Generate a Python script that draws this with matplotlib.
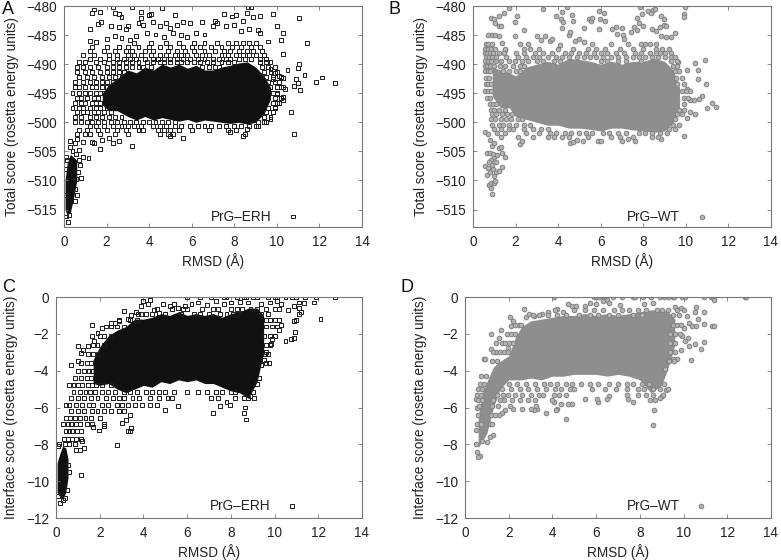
import matplotlib
matplotlib.use("Agg")
import matplotlib.pyplot as plt

plt.rcParams["font.family"] = ["Liberation Sans", "DejaVu Sans"]
plt.rcParams["font.size"] = 9.8

# values: the solid core of each cloud is kept as a band,
# the rest as single points (x = RMSD, y = score) or rows (y, [x, x, ...])
a_band_x = [1.8, 2.1, 2.5, 3, 3.4, 3.8, 4.2, 4.6, 5, 5.4, 5.8, 6.2, 6.6, 7, 7.4, 7.8, 8.2, 8.6, 9, 9.4, 9.7]
a_band_hi = [-495, -493.5, -492.5, -491, -491.5, -490.5, -491, -490, -490.5, -490, -490.7, -490.2, -491, -491, -490.5, -490.2, -489.8, -489.6, -490.5, -492, -494]
a_band_lo = [-497, -498, -498, -499, -499.6, -499, -499.6, -499.2, -499.5, -499.8, -499.5, -500, -499.6, -499.8, -500, -500.2, -500, -500.3, -500, -498.5, -496]
a_col_x = [0.05, 0.15, 0.3, 0.45, 0.6]
a_col_hi = [-510, -507, -505.5, -506, -506.5]
a_col_lo = [-515, -516, -515.5, -513, -510]
a_pts = [
    (1.3, -481.2), (1.7, -481), (1.4, -480.6), (2.3, -480.1), (2.4, -481.2), (2.6, -481.4), (2.7, -481.9), (3.2, -480.2),
    (3.6, -481), (3.6, -482), (4.0, -481.6), (4.1, -481.4), (4.6, -480.4), (5.2, -481.5), (5.6, -482.7), (5.9, -483),
    (6.5, -482.8), (7.1, -482.6), (7.5, -481.4), (7.9, -481.8), (8.1, -481.6), (8.4, -482.6), (8.6, -481.2), (8.65, -480.1),
    (8.8, -480.2), (8.9, -481.9), (9.2, -481.7), (9.8, -481.4), (11.05, -482.1), (10.0, -483.4), (10.3, -484.7), (10.2, -485.8),
    (11.4, -486.3), (10.3, -488.2), (9.6, -486.1), (1.2, -484), (1.2, -486), (1.5, -486.2), (1.6, -483.1), (1.75, -482.7),
    (2.2, -483.4), (2.6, -483.6), (2.9, -484), (3.0, -483.4), (3.5, -483), (3.7, -483.2), (4.2, -482.8), (4.5, -483.4),
    (4.8, -482.9), (5.0, -483.8), (5.3, -483.3), (6.2, -484.6), (6.6, -484.9), (7.0, -483.4), (7.2, -483), (7.6, -483.5),
    (8.0, -483.2), (8.3, -484.3), (8.7, -483.9), (9.1, -484.2), (9.2, -484.7), (2.0, -485.6), (2.4, -485.2), (2.7, -485.5),
    (3.1, -485.8), (3.4, -485.1), (3.9, -484.7), (4.3, -484.9), (4.7, -485.3), (5.1, -484.7), (5.5, -485), (5.8, -485.3),
    (9.7, -490.8), (9.9, -491.5), (10.1, -492), (9.8, -492.6), (10.3, -492.4), (10.5, -491),
    (11.05, -490), (11.0, -490.6), (11.3, -491.9), (10.9, -492.5), (11.85, -493.1), (12.1, -492.3), (12.75, -493.2), (11.0, -493.2),
    (10.8, -493.8), (11.1, -494.5), (10.4, -494.2), (10.2, -494), (10.0, -495.2), (10.3, -495.6), (10.3, -496.2), (10.0, -496.6),
    (9.9, -497.4), (9.8, -498.2), (9.7, -499.4), (9.5, -500), (10.65, -498.3), (10.8, -502), (9.1, -500.6), (8.6, -501.2),
    (8.4, -502.3), (7.8, -501.6), (5.6, -502.7), (5.0, -502.3), (3.2, -504.1), (2.6, -503.2),
    (2.3, -503.5), (2.1, -502.7), (1.7, -504.6), (1.8, -503), (1.4, -503.6), (1.3, -503.4),
    (1.0, -502), (0.9, -503.4), (0.8, -509.6), (0.75, -507.3), (1.15, -506.1),
    (0.9, -506), (0.7, -504.8), (0.5, -503.5), (0.3, -503.2), (0.1, -505.9), (0.3, -504.2), (0.6, -502.8),
    (0.2, -517.1), (0.1, -516.2), (0.25, -516), (0.05, -512.5), (0.6, -512.5), (0.5, -513.5),
    (0.1, -508), (0.15, -506.5), (0.4, -505), (0.55, -505.5), (0.7, -506.5), (0.65, -508.5), (0.55, -509.8), (0.5, -511.5),
]
a_rows = [
    (-486.3, [6.1, 6.6, 7.2, 7.7, 8.1, 8.4, 8.7, 9.0, 3.3, 4.1, 4.8, 5.4]),
    (-487.1, [1.3, 2.0, 2.6, 3.0, 3.5, 4.0, 4.5, 5.0, 5.6, 6.0, 6.4, 6.9, 7.4, 7.9, 8.3, 8.8, 9.2]),
    (-487.8, [1.2, 1.9, 2.4, 2.9, 3.2, 3.8, 4.2, 4.9, 5.3, 5.7, 6.1, 6.6, 7.1, 7.5, 7.8, 8.2, 8.6, 8.9, 9.3]),
    (-488.4, [0.9, 1.4, 2.1, 2.5, 3.0, 3.3, 3.6, 4.1, 4.5, 4.8, 5.2, 5.5, 5.8, 6.2, 6.5, 6.8, 7.4, 7.7, 8.1, 8.4, 8.7, 9.0, 9.4]),
    (-489.1, [1.2, 1.7, 2.1, 2.5, 2.8, 3.1, 3.4, 3.8, 4.2, 4.4, 4.7, 5.0, 5.3, 5.6, 5.9, 6.3, 6.6, 7.0, 7.3, 7.6, 7.8, 8.2, 8.5, 8.8, 9.2, 9.5]),
    (-489.7, [0.7, 1.0, 1.5, 1.9, 2.3, 2.6, 2.9, 3.2, 3.5, 3.9, 4.2, 4.5, 4.7, 5.0, 5.3, 5.5, 5.8, 6.1, 6.4, 6.7, 7.0, 7.4, 7.7, 8.0, 9.2, 9.5, 9.7]),
    (-490.5, [0.6, 0.9, 1.2, 1.6, 2.0, 2.3, 2.6, 2.9, 3.2, 3.5, 3.7, 4.1, 6.5, 6.8, 7.1, 7.3, 9.3, 9.6, 9.9]),
    (-491.3, [0.6, 1.0, 1.3, 1.7, 2.0, 2.3, 2.6, 2.8, 9.4, 9.7, 10.0]),
    (-492.2, [0.7, 1.1, 1.4, 1.8, 2.1, 2.4, 2.7, 9.5, 9.8, 10.2]),
    (-493.1, [0.5, 0.9, 1.2, 1.5, 1.8, 2.0, 2.3, 9.6, 9.9, 10.1]),
    (-494.0, [0.5, 0.7, 1.0, 1.3, 1.5, 1.8, 2.0, 9.7, 10.0, 10.3]),
    (-494.9, [0.4, 0.7, 1.0, 1.2, 1.5, 1.7, 1.9, 9.8, 10.0]),
    (-495.8, [0.6, 0.8, 1.1, 1.4, 1.6, 9.9, 10.2]),
    (-496.6, [0.5, 0.8, 1.0, 1.3, 1.5, 1.7, 9.8, 10.1]),
    (-497.5, [0.4, 0.7, 0.9, 1.2, 1.5, 1.7, 2.0, 9.6, 9.9]),
    (-498.3, [0.6, 0.9, 1.1, 1.4, 1.6, 1.9, 2.2, 9.5, 9.8]),
    (-499.1, [0.5, 0.8, 1.2, 1.5, 1.8, 2.1, 2.4, 2.7, 9.4, 9.7]),
    (-500.0, [0.5, 0.8, 1.1, 1.3, 1.6, 1.9, 2.2, 2.5, 2.8, 3.1, 3.4, 3.7, 4.0, 4.3, 4.6, 4.9, 5.2, 9.1, 9.4]),
    (-500.6, [1.2, 1.5, 1.9, 2.3, 2.7, 3.0, 3.3, 3.6, 4.2, 4.5, 4.8, 5.2, 5.5, 5.9, 6.3, 6.6, 6.9, 7.3, 7.6, 8.0, 8.3, 8.7, 9.0]),
    (-501.3, [0.7, 1.1, 1.6, 2.0, 2.5, 2.9, 3.5, 3.7, 4.4, 4.7, 5.0, 5.4, 6.0, 6.8, 7.7, 8.1]),
    (-502.0, [0.6, 1.2, 1.7, 2.4, 3.0, 4.5, 4.9, 5.1, 8.5]),
]

b_band_x = [0.9, 1.3, 1.7, 2, 2.5, 3, 3.5, 4, 4.5, 5, 5.5, 6, 6.5, 7, 7.5, 8, 8.5, 9, 9.4, 9.7]
b_band_hi = [-490.5, -491, -491.5, -492, -490.5, -490, -489.5, -490, -489, -489.2, -489.5, -490, -489.5, -490, -489.5, -489.5, -489, -489.5, -491, -494]
b_band_lo = [-495.5, -497.5, -497.5, -499, -499.5, -500, -500.5, -500.5, -501, -501, -501.2, -501.5, -501, -501, -501.3, -501.5, -501.7, -501.5, -500, -498]
b_pts = [
    (0.85, -482), (1.0, -482.3), (1.05, -483), (1.2, -483.4), (1.3, -483.4), (1.2, -481.8), (1.45, -481.2), (1.7, -480.3),
    (1.95, -482.8), (2.05, -481.7), (2.4, -484.2), (1.95, -485.2), (3.3, -480.5), (3.9, -481.7), (4.2, -481), (4.4, -480.2),
    (4.65, -481.5), (4.7, -482.6), (4.15, -482.2), (4.25, -482.8), (4.2, -483.8), (5.45, -482.2), (5.55, -482.6), (5.6, -482.1),
    (5.9, -480.9), (5.95, -482.2), (6.15, -481.2), (6.2, -482.6), (5.2, -483.8), (5.9, -483.9), (6.55, -484), (6.7, -483.6),
    (7.0, -483.7), (6.75, -484.9), (7.05, -485), (7.1, -485.6), (7.4, -484.5), (7.55, -483.6), (7.7, -484.2), (7.7, -482.1),
    (7.8, -482.9), (7.95, -481.3), (8.0, -483.4), (8.2, -480.8), (8.35, -481.2), (8.45, -480.7), (8.55, -480.6), (8.85, -481.7),
    (8.95, -482.2), (9.9, -481.4), (9.9, -481.9), (9.95, -480.1), (7.85, -480.2), (8.4, -484), (8.6, -484.3), (8.8, -483.6),
    (8.95, -483.3), (9.05, -483.5), (8.85, -485.2), (9.05, -485.4), (9.3, -485.4), (9.5, -484.7), (9.65, -489.6), (10.05, -491),
    (10.45, -489.8), (10.55, -491), (10.55, -492.6), (10.9, -489.2), (10.95, -493.4), (11.0, -497.6), (11.25, -496.7), (11.4, -497.3),
    (10.75, -495.5), (10.6, -496), (10.4, -496.2), (10.2, -496.2), (10.05, -494.3), (10.2, -494.6), (9.9, -502.3), (10.05, -499.2),
    (10.2, -498.2), (10.45, -498.6), (0.7, -485), (0.9, -485), (1.05, -485), (1.2, -485.1), (1.35, -486.3), (1.5, -487.5),
    (3.0, -485.2), (3.2, -485.8), (3.4, -485.2), (3.6, -486), (3.7, -485.7), (4.1, -486.7), (4.5, -485), (4.55, -484.5),
    (4.8, -486), (5.0, -485.7), (5.2, -486.2), (0.55, -501.7),
    (0.7, -502), (0.8, -503), (0.9, -504), (1.0, -503.5), (1.2, -504.5), (1.3, -504.3), (1.35, -505.3), (1.5, -506),
    (1.35, -507.7), (0.65, -505.3), (0.8, -505.2), (0.55, -507.5), (0.7, -507.9), (0.85, -506.5), (1.0, -506), (1.1, -506.8),
    (0.65, -509), (0.8, -508.5), (0.95, -508), (1.1, -508.5), (1.2, -508.3), (0.75, -510.7), (0.85, -510.4), (1.0, -510.5),
    (1.05, -510.1), (0.85, -511.3), (0.9, -512.3), (0.95, -505.4), (1.15, -505.6), (0.75, -506.8), (0.9, -507.4), (1.0, -509.2),
    (2.2, -503.8), (2.3, -503.2), (4.55, -503.5), (4.7, -503.3), (4.9, -503), (5.15, -503.2),
    (5.85, -503.2), (6.0, -503.2), (7.0, -503.2), (7.3, -502.9), (7.6, -503.2), (8.85, -502.9),
]
b_rows = [
    (-486.6, [0.6, 0.7, 0.9, 2.2, 2.6, 5.6, 6.5, 7.3, 7.9, 8.1, 8.3, 8.6]),
    (-487.4, [0.55, 0.7, 0.85, 1.05, 1.5, 2.4, 2.7, 3.1, 4.0, 4.7, 5.4, 5.8, 6.2, 6.9, 7.5, 8.0, 8.6, 8.9, 9.2]),
    (-488.1, [0.55, 0.65, 0.8, 0.95, 1.2, 1.45, 2.0, 2.4, 2.9, 3.3, 3.7, 4.3, 4.6, 5.0, 5.3, 5.7, 6.0, 6.3, 6.7, 7.1, 7.6, 7.9, 8.3, 8.6, 8.8, 9.0, 9.3]),
    (-488.7, [0.6, 0.75, 0.9, 1.1, 1.55, 2.1, 2.5, 2.8, 3.1, 3.5, 3.9, 4.2, 4.5, 4.9, 5.2, 5.5, 5.8, 6.1, 6.5, 6.8, 7.2, 7.5, 7.8, 8.1, 8.4, 8.7, 9.0, 9.3, 9.5]),
    (-489.4, [0.55, 0.7, 0.85, 1.1, 1.3, 1.7, 1.95, 2.3, 2.6, 3.0, 3.3, 3.8, 4.1, 6.0, 6.3, 6.8, 7.2, 7.9, 9.3, 9.6]),
    (-490.3, [0.55, 0.65, 0.8, 1.0, 1.25, 1.5, 1.9, 2.2, 2.4, 9.4, 9.6]),
    (-491.2, [0.55, 0.7, 0.8, 1.4, 1.7, 2.0, 2.2, 9.5, 9.7]),
    (-492.3, [0.6, 0.75, 9.55, 9.8]),
    (-493.4, [0.6, 0.7, 0.85, 9.6, 9.9]),
    (-494.7, [0.55, 0.7, 0.85, 9.8, 10.0]),
    (-495.8, [0.65, 0.8, 9.9, 10.1]),
    (-496.8, [0.8, 0.95, 1.1, 9.9]),
    (-497.8, [0.85, 1.0, 1.2, 1.5, 9.7, 9.9]),
    (-498.6, [0.9, 1.1, 1.35, 1.6, 1.85, 9.6, 9.8]),
    (-499.5, [0.85, 1.05, 1.3, 1.55, 1.8, 2.1, 2.3, 9.5]),
    (-500.4, [0.9, 1.2, 1.4, 1.7, 2.0, 2.4, 2.7, 9.4, 9.7]),
    (-501.2, [1.0, 1.3, 1.7, 1.9, 2.4, 2.8, 3.2, 3.5, 9.2, 9.5]),
    (-501.9, [1.15, 1.5, 2.5, 3.1, 3.6, 3.9, 4.3, 4.6, 5.0, 5.3, 5.6, 6.1, 6.4, 6.8, 7.2, 7.8, 8.1, 8.4, 8.8, 9.1]),
    (-502.5, [1.3, 2.1, 2.8, 3.5, 3.8, 4.2, 4.5, 5.4, 6.5, 6.9, 7.5, 8.4, 8.7]),
]

c_band_x = [1.7, 2, 2.4, 2.8, 3.2, 3.6, 4, 4.4, 4.8, 5.2, 5.6, 6, 6.4, 6.8, 7.2, 7.6, 8, 8.4, 8.8, 9.2, 9.5]
c_band_hi = [-3.4, -2.7, -2.1, -1.8, -1.6, -1.2, -1.2, -1.1, -0.9, -1.0, -0.8, -1.0, -0.9, -1.0, -0.9, -1.1, -0.9, -0.8, -0.6, -0.6, -1]
c_band_lo = [-4.7, -4.8, -4.7, -5, -5.2, -5, -4.8, -4.9, -4.6, -4.7, -4.5, -4.6, -4.5, -4.7, -4.7, -4.9, -5.1, -5.2, -5.5, -4.6, -3]
c_col_x = [0.05, 0.15, 0.3, 0.45, 0.55]
c_col_hi = [-9, -8.6, -8.1, -8.2, -8.8]
c_col_lo = [-10.6, -10.8, -11, -10.6, -9.8]
c_pts = [
    (6.0, 0), (6.6, 0), (7.1, 0), (7.7, 0), (7.8, 0), (8.3, 0), (8.6, 0), (8.7, 0), (9.0, 0), (9.2, 0), (9.7, 0), (10.0, 0),
    (10.1, 0), (10.5, 0), (10.8, 0), (11.0, 0), (11.4, 0), (11.9, 0), (12.75, 0), (3.9, -0.5), (4.0, -0.2), (4.2, -0.4), (4.3, -0.15),
    (4.9, -0.4), (5.2, -0.5), (5.4, -0.4), (5.6, -0.6), (5.9, -0.5), (6.2, -0.4), (6.5, -0.3), (6.9, -0.45), (7.3, -0.2), (7.7, -0.4),
    (8.0, -0.3), (8.4, -0.25), (8.8, -0.3), (9.4, -0.4), (9.8, -0.3), (10.1, -0.2), (10.3, -0.4), (10.6, -0.7), (10.9, -0.5), (11.1, -0.3),
    (11.2, -0.8), (11.1, -0.6), (11.35, -0.35), (11.8, -0.3), (11.1, -0.9), (11.0, -1.25), (10.9, -1.3), (12.1, -1.2), (10.95, -1.9),
    (10.9, -2.25), (10.75, -2.3), (10.5, -2.4), (10.3, -1.5), (10.2, -1.8), (9.9, -2.3), (9.85, -2.55), (9.6, -3), (9.5, -3.4), (9.4, -3.7),
    (9.3, -4.4), (9.2, -4.7), (8.9, -5.4), (8.7, -6.65), (8.65, -6), (8.6, -6.3), (7.95, -5.85), (7.8, -5.7),
    (7.5, -5.9), (7.2, -6.3), (5.6, -5.9), (5.0, -6.15), (3.45, -7.1), (3.4, -7.3), (3.3, -7.3), (3.4, -6.4), (3.2, -6.7), (3.0, -6.85),
    (2.8, -8.05), (2.2, -7), (2.2, -6.9), (1.95, -7.25), (1.7, -7.05), (1.3, -8.2), (1.2, -7.8), (1.15, -9.65), (1.1, -8.3), (0.9, -8.3),
    (0.1, -8.1), (0.55, -9.1), (0.2, -11.2), (0.3, -11), (0.4, -10.9), (0.1, -10.8), (0.5, -10.5), (0.6, -9.5),
    (1.65, -1.5), (1.65, -2.1), (1.75, -2.4), (1.9, -1.95), (2.1, -1.7), (2.3, -1.6), (2.5, -1.4), (2.7, -1.4),
    (2.9, -1.3), (3.1, -0.75), (3.3, -1.2), (3.45, -1.0), (3.65, -0.8), (3.75, -0.9), (4.5, -0.7), (4.7, -0.85),
    (1.0, -2.65), (1.25, -2.9), (1.15, -3.05), (1.45, -2.65), (0.7, -3.7), (1.0, -3.5),
]
c_rows = [
    (-3.6, [1.15, 1.4, 1.6, 9.6, 9.75]),
    (-4.0, [1.0, 1.3, 1.5, 1.65]),
    (-4.4, [0.85, 1.15, 1.4, 1.6]),
    (-4.8, [0.6, 0.8, 1.0, 1.2, 1.45, 1.65, 1.85, 2.1, 2.5]),
    (-5.15, [0.8, 1.1, 1.35, 1.55, 1.8, 2.1, 2.4, 2.7, 3.1, 3.4, 3.7, 4.1, 4.4, 4.7, 5.0, 5.4, 6.0, 6.5, 6.9, 7.3, 7.6, 8.0, 8.2, 9.0]),
    (-5.5, [0.7, 1.0, 1.3, 1.6, 1.9, 2.3, 2.6, 2.9, 3.1, 3.5, 3.8, 4.3, 4.7, 5.1, 5.3, 7.1, 7.4, 8.2, 8.6, 8.8, 9.05]),
    (-5.85, [0.45, 0.6, 0.9, 1.2, 1.5, 1.7, 2.1, 2.4, 2.8, 3.0, 3.3, 3.6, 3.95, 4.3, 4.6]),
    (-6.2, [0.7, 1.0, 1.3, 1.65, 1.9, 2.2, 2.5, 2.9, 3.1]),
    (-6.55, [0.45, 0.65, 0.85, 1.1, 1.35, 1.6, 2.0]),
    (-6.9, [0.3, 0.55, 0.7, 0.9, 1.1, 1.4, 1.65]),
    (-7.3, [0.45, 0.6, 0.75, 0.95, 1.15]),
    (-7.7, [0.35, 0.55, 0.75, 0.9, 1.15]),
    (-8.0, [0.15, 0.4, 0.6, 0.85]),
    (-0.9, [3.9, 4.1, 4.4, 5.0, 5.7, 6.3, 6.6, 7.0, 7.5, 7.8, 8.1, 8.3, 9.4, 9.7]),
    (-0.65, [4.6, 5.3, 5.8, 6.0, 6.7, 7.2, 7.4, 8.0, 8.3, 8.5, 8.9, 9.2, 9.6, 10.0, 10.2]),
    (-1.25, [2.9, 3.4, 3.7, 9.6, 9.8, 10.0, 10.2]),
    (-1.6, [2.5, 2.8, 3.1, 9.6, 9.9, 10.1]),
    (-2.1, [2.0, 2.2, 2.5, 9.5, 9.8, 10.0]),
    (-2.6, [1.7, 1.9, 2.2, 9.6, 9.8]),
    (-3.1, [1.45, 1.7, 1.9, 9.55, 9.7]),
]

d_band_x = [0.6, 0.8, 1, 1.3, 1.6, 2, 2.3, 2.6, 3, 3.5, 4, 4.5, 5, 5.5, 6, 6.5, 7, 7.5, 8, 8.5, 9, 9.3, 9.6]
d_band_hi = [-6.5, -5.2, -4.6, -3.8, -3.5, -3.2, -2.2, -1.6, -1.3, -1.2, -1.1, -1, -1, -0.9, -1, -0.9, -1, -0.9, -0.8, -0.7, -0.7, -0.8, -1.2]
d_band_lo = [-8.2, -7.8, -7.4, -6, -5, -4.5, -4.5, -4.5, -4.4, -4.5, -4.3, -4.3, -4.2, -4.2, -4.2, -4.3, -4.2, -4.3, -4.5, -5.2, -4.8, -3.8, -2.6]
d_pts = [
    (4.05, 0), (5.9, 0), (6.0, 0), (6.15, 0), (6.35, 0), (6.45, 0), (6.75, 0), (7.2, 0), (7.7, 0), (7.8, 0), (8.15, 0), (8.5, 0), (8.9, 0),
    (9.1, 0), (9.3, 0), (9.5, 0), (9.55, 0), (9.95, 0), (10.05, 0), (10.95, 0), (11.25, 0), (11.35, 0), (12.8, 0), (12.85, 0), (11.4, -0.15),
    (6.3, -0.2), (5.7, -0.3), (6.5, -0.15), (7.1, -0.45), (4.7, -0.4), (4.9, -0.5), (5.1, -0.5), (5.5, -0.5), (6.0, -0.4), (6.6, -0.35),
    (8.2, -0.4), (8.6, -0.35), (9.6, -0.55), (9.9, -0.6), (10.55, -0.55), (10.5, -0.8), (10.95, -0.8), (10.65, -1.2), (10.15, -1.05), (10.25, -1.4),
    (10.95, -1.45), (11.3, -1.55), (11.4, -1.6), (10.4, -1.6), (10.55, -1.55), (10.0, -1.7), (9.95, -2.1), (10.2, -2.2), (10.05, -2.4), (10.25, -2.65),
    (10.5, -2.55), (10.95, -2.45), (10.8, -2.85), (10.35, -3.4), (9.9, -2.9), (9.7, -3.35), (9.5, -3.35), (9.3, -3.5), (9.15, -3.9), (9.2, -5.05),
    (9.0, -5.35), (8.9, -5.5), (8.7, -5.6), (8.65, -6.15), (8.6, -6.95), (7.7, -5.7), (7.45, -5.55), (7.4, -5.3),
    (6.6, -5.4), (6.5, -5.55), (6.1, -5.7), (6.05, -5.55), (5.5, -5.55), (4.9, -5.8),
    (4.6, -6.6), (4.7, -5.8), (4.4, -5.8), (4.2, -6.1), (4.15, -6.15), (4.05, -5.7), (3.7, -6.3), (3.3, -6.1), (3.15, -6.15),
    (3.0, -6.1), (2.6, -6.1), (2.2, -6.1), (2.05, -5.9), (1.85, -6.15), (1.7, -6.3), (1.55, -6.4), (1.3, -7.5), (1.15, -7.6),
    (1.0, -7.9), (0.8, -7.8), (0.7, -8.65), (0.6, -8.7), (0.55, -8.4), (0.5, -8), (0.5, -7.2), (0.55, -6.05), (0.5, -5.55),
    (0.85, -3.35), (0.9, -3.35), (1.2, -2.85), (1.2, -2), (1.4, -3), (1.4, -2.5), (1.55, -2.2), (1.65, -1.8), (1.95, -2.75),
    (2.05, -1.1), (2.1, -1.6), (2.2, -1.3), (2.45, -1.5), (2.7, -0.65), (2.8, -1.1), (2.95, -0.9), (3.15, -1.05), (3.5, -0.9), (3.8, -0.8),
    (4.2, -0.65), (4.5, -0.8),
]
d_rows = [
    (-0.7, [4.1, 5.0, 5.5, 5.9, 6.3, 6.8, 7.2, 7.5, 7.9, 8.3, 8.8, 9.0, 9.3, 9.7, 10.0]),
    (-1.0, [3.1, 3.4, 3.8, 4.2, 4.6, 5.2, 5.7, 6.1, 6.6, 7.0, 7.7, 8.1, 9.5, 9.8]),
    (-1.5, [2.3, 2.55, 9.5, 9.7, 9.9]),
    (-2.0, [1.9, 2.1, 2.3, 9.4, 9.6, 9.85]),
    (-2.5, [1.7, 1.85, 2.0, 2.2, 9.4, 9.6]),
    (-3.0, [1.3, 1.6, 1.8, 1.95, 9.4, 9.6]),
    (-3.5, [1.25, 1.45, 9.35, 9.55]),
    (-4.3, [0.75, 0.95]),
    (-4.7, [0.7, 0.85, 2.0, 2.4, 2.8, 3.2, 3.6, 3.9, 4.2, 4.6, 4.9, 5.3, 5.7, 6.1, 6.6, 7.0, 7.4, 7.7, 8.1, 8.4, 9.1]),
    (-5.0, [0.6, 0.8, 1.7, 2.1, 2.5, 2.9, 3.3, 3.7, 4.1, 4.4, 4.8, 5.0, 5.8, 6.4, 6.9, 7.4, 7.9, 8.2, 8.6, 8.9, 9.3]),
    (-5.3, [0.55, 0.75, 1.45, 1.75, 1.95, 2.3, 2.6, 3.0, 3.4, 3.55, 4.05, 4.3, 4.6, 7.9, 8.3, 8.6, 9.05]),
    (-5.6, [0.6, 0.8, 1.3, 1.6, 1.8, 2.15, 2.5, 2.9, 3.2, 4.0, 8.45]),
    (-5.9, [0.65, 1.25, 1.5, 3.25]),
    (-6.4, [0.6, 1.2, 1.35]),
    (-6.9, [0.55, 0.75, 1.15, 1.25]),
]

erh = "PrG\u2013ERH"
wt = "PrG\u2013WT"
tot_ticks = [-480, -485, -490, -495, -500, -505, -510, -515]
int_ticks = [0, -2, -4, -6, -8, -10, -12]
tot_label = "Total score (rosetta energy units)"
int_label = "Interface score (rosetta energy units)"

W, H = 781, 560


def box(left, right, top, bottom):
    return [left / W, 1 - bottom / H, (right - left) / W, (bottom - top) / H]


def expand(pts, rows):
    out = list(pts)
    for y, xs in rows:
        out += [(x, y) for x in xs]
    return out


def draw_panel(rect, letter, letter_xy, pts, rows, band, col, ylim, yticks, ylabel, leg_pt, leg_name, leg_x, kind):
    ax = fig.add_axes(box(*rect))
    if kind == "square":
        fill = "#111111"
        style = dict(marker="s", s=8, facecolors="none", edgecolors="#1c1c1c", linewidths=0.7)
    else:
        fill = "#8e8e8e"
        style = dict(marker="o", s=11, facecolors="#b4b4b4", edgecolors="#808080", linewidths=0.7)
    ax.fill_between(band[0], band[1], band[2], color=fill, lw=0, zorder=1)
    if col is not None:
        ax.fill_between(col[0], col[1], col[2], color=fill, lw=0, zorder=1)
    x, y = zip(*expand(pts, rows))
    ax.scatter(x, y, zorder=2, **style)
    ax.scatter([leg_pt[0]], [leg_pt[1]], zorder=3, **style)
    ax.text(leg_x, leg_pt[1], leg_name, ha="left", va="center", color="#222222")

    ax.set_xlim(0, 14)
    ax.set_ylim(*ylim)
    ax.set_xticks(range(0, 15, 2))
    ax.set_yticks(yticks)
    ax.set_yticklabels([str(t).replace("-", "\u2212") for t in yticks])
    ax.tick_params(direction="in", length=3, width=0.6, color="#777777", top=True, right=True, labelcolor="#222222")
    ax.tick_params(axis="x", pad=5.5)
    ax.tick_params(axis="y", pad=5)
    for s in ax.spines.values():
        s.set_color("#777777")
        s.set_linewidth(0.8)
    ax.set_xlabel("RMSD (\u00c5)", color="#222222", labelpad=3.5)
    ax.set_ylabel(ylabel, color="#222222", labelpad=5.5)
    fig.text(letter_xy[0] / W, 1 - letter_xy[1] / H, letter, fontsize=13, color="#111111", ha="left", va="center")


fig = plt.figure(figsize=(W / 100, H / 100), dpi=100)

draw_panel((64, 362, 6, 227), "A", (2, 10), a_pts, a_rows, (a_band_x, a_band_hi, a_band_lo), (a_col_x, a_col_hi, a_col_lo),
           (-518, -480), tot_ticks, tot_label, (10.75, -516.2), erh, 6.9, "square")
draw_panel((473, 771, 6, 227), "B", (388, 10), b_pts, b_rows, (b_band_x, b_band_hi, b_band_lo), None,
           (-518, -480), tot_ticks, tot_label, (10.75, -516.2), wt, 7.25, "circle")
draw_panel((56, 362, 297, 518), "C", (2, 288), c_pts, c_rows, (c_band_x, c_band_hi, c_band_lo), (c_col_x, c_col_hi, c_col_lo),
           (-12, 0), int_ticks, int_label, (10.8, -11.35), erh, 7.05, "square")
draw_panel((465, 771, 297, 518), "D", (401, 288), d_pts, d_rows, (d_band_x, d_band_hi, d_band_lo), None,
           (-12, 0), int_ticks, int_label, (10.8, -11.35), wt, 7.4, "circle")

fig.savefig("out.png", dpi=100)
